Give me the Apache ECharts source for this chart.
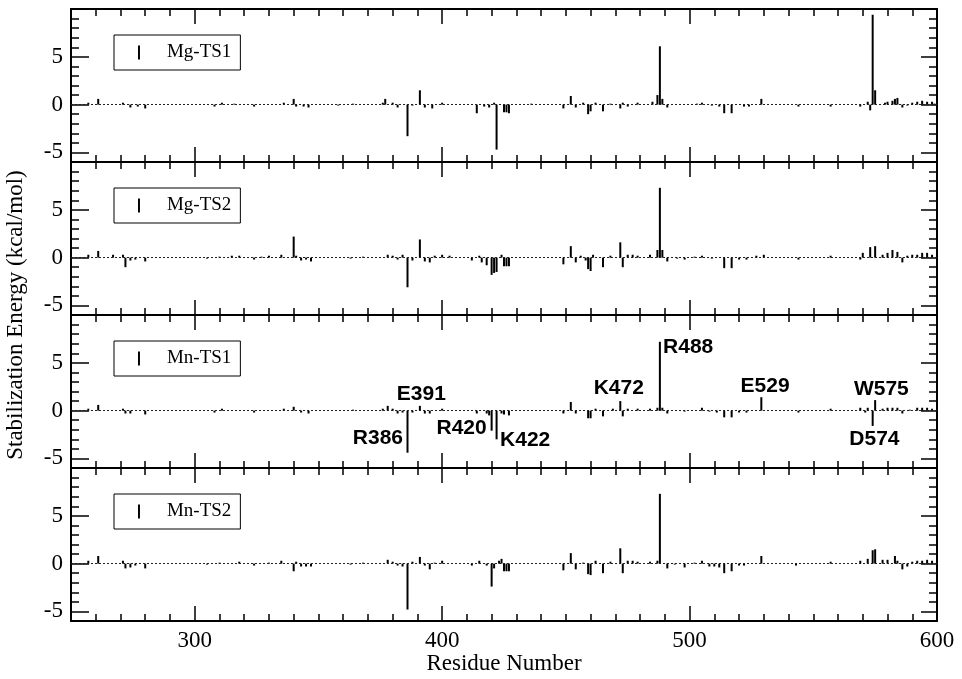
<!DOCTYPE html>
<html><head><meta charset="utf-8">
<script src="https://cdn.jsdelivr.net/npm/echarts@6/dist/echarts.min.js"></script>
<style>html,body{margin:0;padding:0;background:#fff}#c{width:962px;height:679px}</style>
</head><body><div id="c"></div>
<script>
// ---------------- data ----------------
const panelNames = ['Mg-TS1', 'Mg-TS2', 'Mn-TS1', 'Mn-TS2'];
const xTickLabels = [300, 400, 500, 600];
const yTickLabels = [-5, 0, 5];

// [residue, stabilization energy (kcal/mol)]
const mgTS1 = [[257,0.2],[261,0.6],[271,0.2],[274,-0.3],[277,-0.2],[280,-0.4],[308,-0.2],[311,0.2],[316,0.1],[324,-0.2],[336,0.2],[340,0.6],[341,-0.2],[344,-0.2],[346,-0.3],
 [358,-0.1],[364,0.1],[376,0.2],[377,0.6],[380,0.2],[382,-0.3],[386,-3.3],[388,-0.1],[391,1.5],[393,-0.3],[396,-0.4],[400,0.2],[414,-0.9],[417,-0.2],[419,-0.3],[421,0.2],[422,-4.7],
 [425,-0.8],[426,-0.8],[427,-0.9],[436,0.1],[449,-0.4],[452,0.9],[454,-0.3],[457,0.2],[459,-1.0],[460,-0.7],[462,0.2],[465,-0.7],[468,0.1],[472,-0.4],[473,0.2],[475,-0.2],[479,0.2],
 [485,0.3],[487,1.0],[488,6.1],[489,0.6],[491,-0.3],[503,0.1],[505,0.2],[509,-0.1],[512,-0.2],[514,-0.9],[517,-0.9],[522,-0.2],[524,-0.2],[529,0.6],[544,-0.2],[557,-0.2],[569,-0.2],
 [572,0.3],[573,-0.6],[574,9.4],[575,1.5],[579,0.2],[580,0.3],[582,0.4],[583,0.6],[584,0.7],[586,-0.3],[588,-0.1],[590,0.2],[592,0.3],[594,0.4],[596,0.3],[598,0.3],[599,0.1]];

const mgTS2 = [[257,0.3],[261,0.7],[267,0.3],[271,0.3],[272,-1.0],[274,-0.3],[276,-0.2],[280,-0.4],[305,-0.1],[310,0.1],[315,0.2],[318,0.2],[324,-0.2],[327,0.1],[330,0.2],[335,0.3],
 [340,2.2],[341,0.2],[343,-0.3],[345,-0.2],[347,-0.4],[363,-0.1],[368,0.1],[378,0.3],[380,0.2],[382,-0.2],[384,0.3],[386,-3.1],[388,-0.3],[391,1.9],[393,-0.4],[395,-0.5],[397,0.2],
 [400,0.3],[403,0.2],[412,-0.3],[415,0.2],[416,-0.5],[418,-0.8],[420,-1.8],[421,-1.6],[422,-1.5],[424,0.3],[425,-0.9],[426,-0.9],[427,-0.9],[449,-0.7],[452,1.2],[454,-0.5],[456,0.2],
 [458,-0.3],[459,-1.2],[460,-1.4],[461,0.3],[465,-1.0],[468,0.2],[472,1.6],[473,-1.0],[475,0.3],[477,0.3],[479,0.2],[484,0.3],[487,0.8],[488,7.3],[489,0.8],[491,-0.4],[495,-0.1],
 [498,-0.2],[502,0.1],[505,0.2],[509,-0.1],[514,-1.1],[517,-1.1],[520,-0.2],[523,-0.2],[527,0.2],[530,0.3],[544,-0.2],[557,0.2],[569,-0.2],[570,0.5],[573,1.1],[575,1.2],[578,0.3],
 [580,0.5],[582,0.8],[584,0.6],[586,-0.5],[588,0.2],[590,0.3],[592,0.3],[594,0.5],[596,0.5],[598,0.3]];

const mnTS1 = [[257,0.2],[261,0.6],[271,0.2],[272,-0.3],[274,-0.3],[280,-0.4],[308,-0.2],[311,0.2],[324,-0.2],[336,0.2],[340,0.4],[343,-0.2],[346,-0.3],[364,0.1],[376,0.2],[378,0.5],
 [380,0.2],[382,-0.3],[384,-0.2],[386,-4.4],[388,-0.2],[391,0.5],[393,-0.3],[395,-0.3],[400,0.2],[414,-0.3],[418,-0.3],[419,-0.5],[420,-2.1],[422,-3.0],[424,-0.3],[425,-0.4],[427,-0.5],
 [449,-0.3],[452,0.9],[454,-0.3],[459,-0.8],[460,-0.8],[462,0.2],[465,-0.6],[469,0.2],[472,1.0],[473,-0.6],[475,0.2],[479,0.2],[484,0.2],[487,0.3],[488,7.2],[489,0.3],[491,-0.3],
 [498,-0.1],[505,0.3],[508,-0.1],[511,-0.2],[514,-0.7],[517,-0.7],[520,-0.2],[523,-0.2],[529,1.4],[544,-0.2],[557,0.2],[569,0.3],[571,-0.2],[572,0.3],[574,-1.6],[575,1.1],[578,0.2],
 [580,0.3],[582,0.3],[584,0.3],[586,-0.3],[589,0.1],[592,0.3],[594,0.3],[596,0.3],[598,0.2]];

const mnTS2 = [[257,0.3],[261,0.8],[271,0.3],[272,-0.5],[274,-0.4],[276,-0.2],[280,-0.5],[305,-0.1],[310,0.1],[318,0.2],[324,-0.2],[330,0.1],[335,0.3],[340,-0.8],[341,0.2],[343,-0.3],
 [345,-0.3],[347,-0.3],[363,-0.1],[368,0.1],[378,0.4],[380,0.2],[382,-0.2],[384,-0.3],[386,-4.8],[388,0.2],[391,0.7],[393,-0.2],[395,-0.6],[397,0.1],[400,0.3],[412,-0.2],[415,0.3],
 [418,-0.2],[420,-2.4],[421,-0.5],[423,0.3],[424,0.5],[425,-0.8],[426,-0.8],[427,-0.8],[449,-0.7],[452,1.1],[454,-0.6],[457,0.1],[459,-1.1],[460,-1.2],[462,0.3],[465,-1.0],[468,0.2],
 [472,1.6],[473,-1.0],[475,0.3],[477,0.3],[479,0.2],[484,0.2],[487,0.3],[488,7.3],[491,-0.5],[494,-0.1],[498,-0.4],[502,0.1],[505,0.3],[508,-0.3],[510,-0.3],[512,-0.4],[514,-1.0],
 [517,-0.8],[520,-0.2],[522,-0.2],[529,0.8],[543,-0.2],[557,0.2],[569,0.3],[572,0.5],[574,1.4],[575,1.5],[578,0.4],[580,0.4],[583,0.8],[584,0.3],[586,-0.6],[588,-0.3],[590,0.2],
 [592,0.3],[594,0.3],[596,0.4],[598,0.3]];

const annotLabels   = ['R386', 'E391', 'R420', 'K422', 'K472', 'R488', 'E529', 'D574', 'W575'];
const annotResidues = [386, 391, 420, 422, 472, 488, 529, 574, 575];

// ---------------- layout / styles ----------------
const panelData = [mgTS1, mgTS2, mnTS1, mnTS2];
const SERIF = "'Liberation Serif', 'Times New Roman', serif";
const SANS = "'Liberation Sans', Arial, sans-serif";
const GT = 9, GH = 153, GL = 71, GR = 25;
const BLACK = '#000';
// label placement (offset in residues from the residue, y of text centre, alignment)
const place = {
  R386: {dx: -1.8, y: -2.9, align: 'right'},
  E391: {dx: 0.6, y: 1.7, align: 'center'},
  R420: {dx: -2.0, y: -1.8, align: 'right'},
  K422: {dx: 1.4, y: -3.1, align: 'left'},
  K472: {dx: -0.6, y: 2.3, align: 'center'},
  R488: {dx: 1.3, y: 6.6, align: 'left'},
  E529: {dx: 1.5, y: 2.6, align: 'center'},
  D574: {dx: 0.7, y: -2.95, align: 'center'},
  W575: {dx: 2.5, y: 2.26, align: 'center'}
};

const grid = [], xAxis = [], yAxis = [], series = [], legend = [];
const line = {show: true, onZero: false, lineStyle: {color: BLACK, width: 2}};
const tickStyle = {color: BLACK, width: 1.5};

panelData.forEach((data, i) => {
  const last = i === panelData.length - 1;
  const top = GT + i * GH;
  grid.push({left: GL, right: GR, top: top, height: GH});
  const bx = {gridIndex: i, type: 'value', min: 250, max: 600, splitLine: {show: false}, axisLine: line, silent: true};
  const xi = xAxis.length;
  xAxis.push(Object.assign({}, bx, {position: 'bottom', interval: 10,
    axisTick: {inside: true, length: 7, lineStyle: tickStyle}, axisLabel: {show: false},
    name: last ? 'Residue Number' : '', nameLocation: 'middle', nameGap: 31,
    nameTextStyle: {fontFamily: SERIF, fontSize: 23, color: BLACK}}));
  xAxis.push(Object.assign({}, bx, {position: 'bottom',
    axisTick: {inside: true, length: 15, customValues: [300, 400, 500], lineStyle: tickStyle},
    axisLabel: {show: last, customValues: xTickLabels, margin: 8, fontFamily: SERIF, fontSize: 23, color: BLACK}}));
  xAxis.push(Object.assign({}, bx, {position: 'top', interval: 10,
    axisTick: {inside: true, length: 7, lineStyle: tickStyle}, axisLabel: {show: false}}));
  xAxis.push(Object.assign({}, bx, {position: 'top',
    axisTick: {inside: true, length: 15, customValues: [300, 400, 500], lineStyle: tickStyle}, axisLabel: {show: false}}));

  const by = {gridIndex: i, type: 'value', min: -6, max: 10, splitLine: {show: false}, axisLine: line, silent: true};
  const yi = yAxis.length;
  yAxis.push(Object.assign({}, by, {position: 'left', interval: 1,
    axisTick: {inside: true, length: 8, lineStyle: tickStyle}, axisLabel: {show: false}}));
  yAxis.push(Object.assign({}, by, {position: 'left',
    axisTick: {inside: true, length: 18, customValues: yTickLabels, lineStyle: tickStyle},
    axisLabel: {show: true, customValues: yTickLabels, margin: 8, fontFamily: SERIF, fontSize: 23, color: BLACK}}));
  yAxis.push(Object.assign({}, by, {position: 'right', interval: 1,
    axisTick: {inside: true, length: 8, lineStyle: tickStyle}, axisLabel: {show: false}}));
  yAxis.push(Object.assign({}, by, {position: 'right',
    axisTick: {inside: true, length: 16, customValues: yTickLabels, lineStyle: tickStyle}, axisLabel: {show: false}}));

  series.push({
    name: panelNames[i], type: 'bar', xAxisIndex: xi, yAxisIndex: yi,
    data: data, barWidth: 2, itemStyle: {color: BLACK}, silent: true, animation: false,
    markLine: {silent: true, symbol: 'none', label: {show: false}, animation: false,
      lineStyle: {color: '#222', width: 1, type: [2, 2]}, data: [{yAxis: 0}]}
  });

  legend.push({
    data: [panelNames[i]], left: 114, top: top + 26, selectedMode: false,
    backgroundColor: '#fff', borderColor: BLACK, borderWidth: 1, borderRadius: 0,
    padding: [8, 9, 8, 24], itemWidth: 38, itemHeight: 14,
    icon: 'path://M0,0L1.4,0L1.4,10L0,10Z', itemStyle: {color: BLACK},
    textStyle: {fontFamily: SERIF, fontSize: 19, color: BLACK, padding: [0, 0, 0, 4]}
  });
});

// annotations on the Mn-TS1 panel
series.push({
  type: 'scatter', xAxisIndex: 2 * 4, yAxisIndex: 2 * 4, symbolSize: 0, silent: true, animation: false,
  itemStyle: {opacity: 1, color: BLACK},
  data: annotLabels.map((t, k) => ({
    name: t, value: [annotResidues[k] + place[t].dx, place[t].y],
    label: {align: place[t].align}
  })),
  label: {show: true, position: 'inside', formatter: '{b}', fontFamily: SANS, fontWeight: 'bold',
    fontSize: 21, color: BLACK, opacity: 1, textBorderWidth: 0, verticalAlign: 'middle'}
});

const chart = echarts.init(document.getElementById('c'));
chart.setOption({
  animation: false,
  backgroundColor: '#fff',
  grid, xAxis, yAxis, series, legend,
  graphic: [{
    type: 'text', x: 16, y: GT + 2 * GH, rotation: Math.PI / 2, silent: true,
    style: {text: 'Stabilization Energy (kcal/mol)', x: 0, y: 0, align: 'center', verticalAlign: 'middle',
      font: "23px 'Liberation Serif', 'Times New Roman', serif", fill: BLACK}
  }]
});
</script>
</body></html>
